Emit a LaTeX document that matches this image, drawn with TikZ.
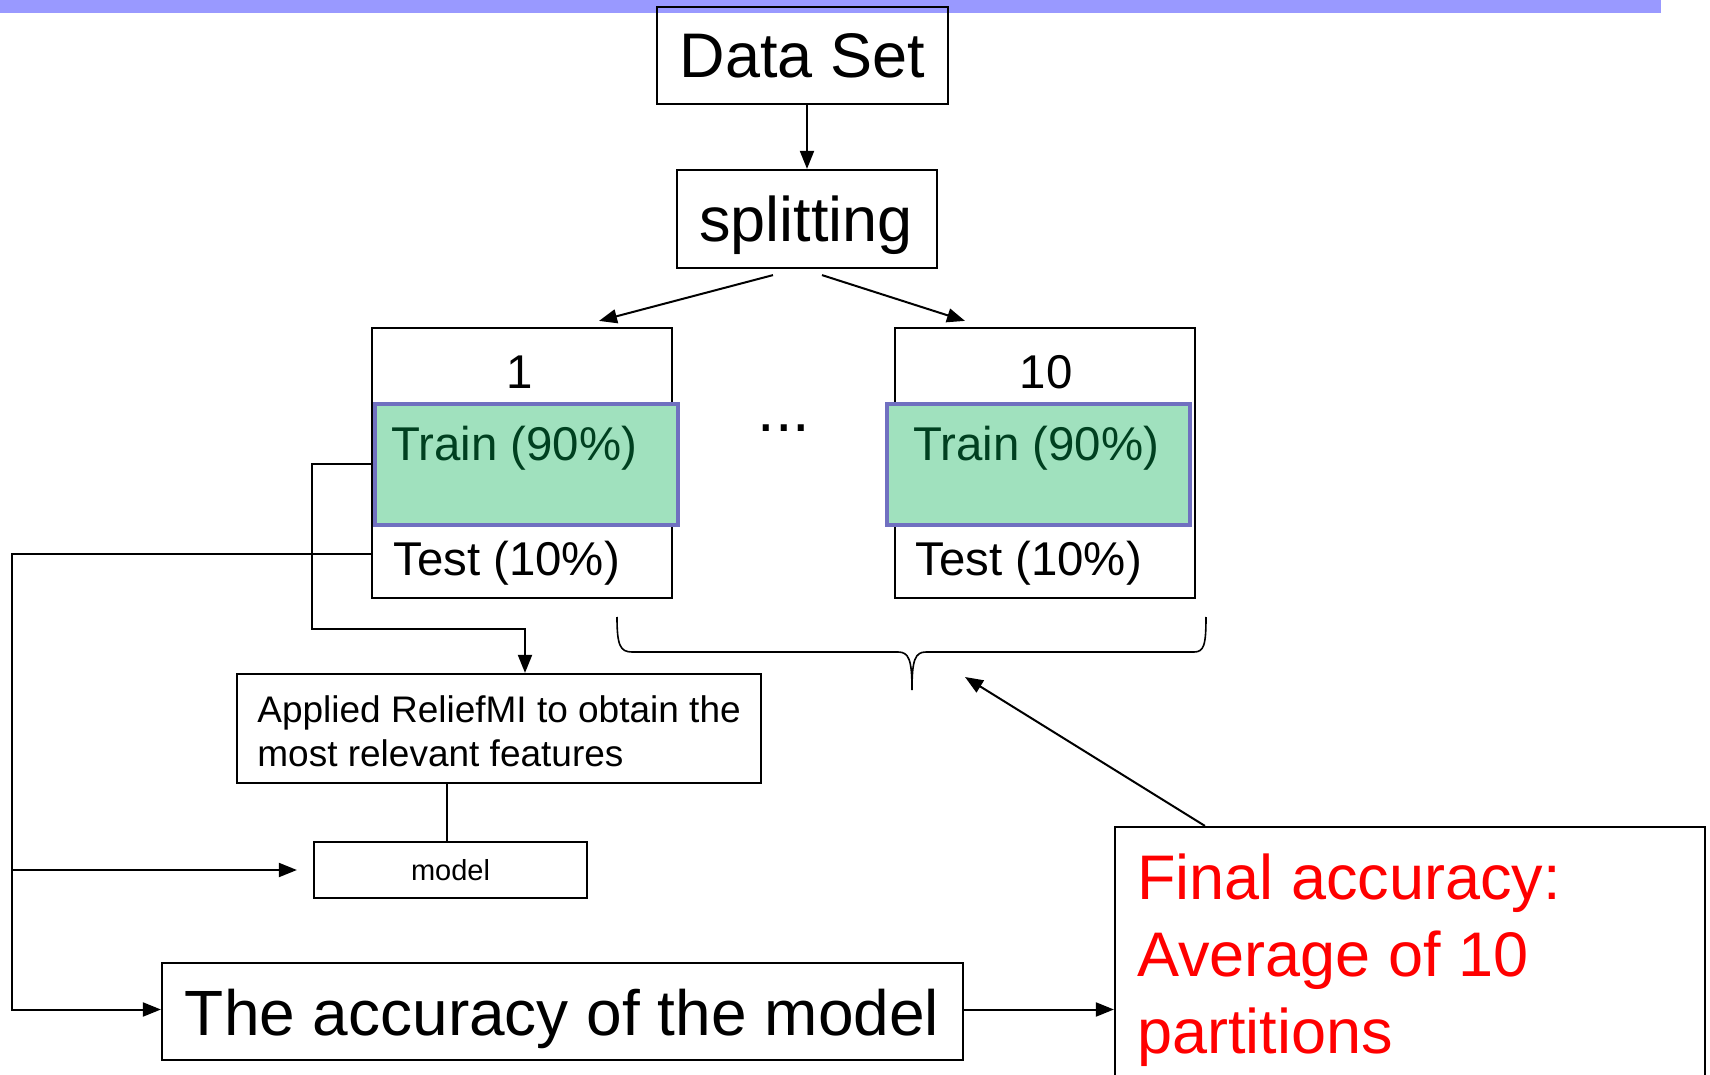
\documentclass[tikz,border=0pt]{standalone}
\usepackage{fontspec}
\setmainfont{Liberation Sans}
\usetikzlibrary{arrows.meta,calc}
\definecolor{bandblue}{RGB}{153,153,255}
\definecolor{trainfill}{RGB}{160,225,190}
\definecolor{trainedge}{RGB}{112,112,192}
\definecolor{traintext}{RGB}{0,64,32}
\begin{document}
\begin{tikzpicture}[x=0.5pt,y=-0.5pt,
  box/.style={draw,line width=1.1pt,inner sep=0pt,rectangle},
  trainbox/.style={draw=trainedge,line width=2pt,fill=trainfill,inner sep=0pt,minimum width=151.5pt,minimum height=60.5pt},
  arr/.style={line width=1pt,-{Triangle[length=9pt,width=7pt]}},
  ln/.style={line width=1pt},
  big/.style={font=\fontsize{31.5pt}{38.5pt}\selectfont},
  mid/.style={font=\fontsize{23.7pt}{28pt}\selectfont},
  rel/.style={font=\fontsize{18.5pt}{22pt}\selectfont},
  small/.style={font=\fontsize{14.5pt}{17pt}\selectfont}]
\useasboundingbox (0,0) rectangle (1710,1075);
\clip (0,0) rectangle (1710,1075);
\fill[bandblue] (0,0) rectangle (1661,13);

% top
\node[box,minimum width=145.5pt,minimum height=48.5pt,big] (ds) at (802.5,55.5) {Data Set};
\node[box,minimum width=130pt,minimum height=49pt] (sp) at (807,219) {};
\node[big,inner sep=0pt] (spt) at (806,225) {splitting};
\draw[arr] (ds.south -| sp.north) -- (sp.north);

% partition 1
\node[box,minimum width=150pt,minimum height=135pt] (b1) at (522,463) {};
\node[trainbox] (t1) at (526.5,464.5) {};
\node[mid] (n1) at (520,372) {1};
\node[mid,text=traintext,anchor=west,inner sep=0pt] (tr1) at (391,448) {Train (90\%)};
\node[mid,anchor=west,inner sep=0pt] (te1) at (393,563) {Test (10\%)};

% partition 10
\node[box,minimum width=150pt,minimum height=135pt] (b10) at (1045,463) {};
\node[trainbox] (t10) at (1038,464.5) {};
\node[mid] (n10) at (1046,372) {10};
\node[mid,text=traintext,anchor=west,inner sep=0pt] (tr10) at (913,448) {Train (90\%)};
\node[mid,anchor=west,inner sep=0pt] (te10) at (915,563) {Test (10\%)};

\node[big,anchor=base] (dots) at (784,432) {...};

\draw[arr] ([shift={(-34,6)}]sp.south) -- ([shift={(77,-6)}]b1.north);
\draw[arr] ([shift={(15,6)}]sp.south) -- ([shift={(-80,-6)}]b10.north);

% lower left
\node[box,minimum width=262pt,minimum height=54.5pt] (relf) at (499,728.5) {};
\node[rel,anchor=west,align=left,inner sep=0pt] (relt) at (257,731) {Applied ReliefMI to obtain the\\most relevant features};
\node[box,minimum width=136.5pt,minimum height=28pt,small] (mod) at (450.5,870) {model};
\node[box,minimum width=400.5pt,minimum height=48.5pt] (acc) at (562.5,1011.5) {};
\node[big,inner sep=0pt,font=\fontsize{32pt}{38.5pt}\selectfont] (acct) at (562,1019) {The accuracy of the model};

\draw[arr] (t1.west) -- (312,464.5) -- (312,629) -- (525,629) -- ([shift={(26,0)}]relf.north);
\draw[ln] ([shift={(-52,0)}]relf.south) -- ([shift={(-52,0)}]relf.south |- mod.north);
\draw[arr] ([shift={(0,91)}]b1.west) -- (12,554) |- ([shift={(0,-2)}]acc.west);
\draw[arr] (12,870) -- ([shift={(-16,0)}]mod.west);

% final
\node[box,minimum width=295pt,minimum height=144pt] (fin) at (1410,971) {};
\node[big,text=red,anchor=west,align=left,inner sep=0pt] (ft) at (1137,960) {Final accuracy:\\Average of 10\\partitions};
\draw[arr] ([shift={(0,-2)}]acc.east) -- ([shift={(0,-2)}]acc.east -| fin.west);

% brace
\draw[line width=0.8pt] (617,617) .. controls (617,645) and (620,652) .. (632,652) -- (898,652) .. controls (909,652) and (912,660) .. (912,690)
  .. controls (912,660) and (915,652) .. (926,652) -- (1194,652) .. controls (1204,652) and (1206,645) .. (1206,617);
\coordinate (btip) at (965,677);
\draw[arr] ([shift={(91,0)}]fin.north west) -- (btip);
\end{tikzpicture}
\end{document}
